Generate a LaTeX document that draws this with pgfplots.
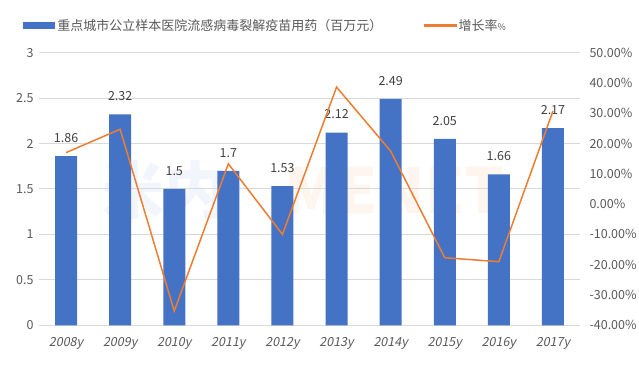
\documentclass[border=0pt]{standalone}
\usepackage{pgfplots}
\pgfplotsset{compat=1.18}
\usepackage{fontspec}
\setmainfont{Noto Sans CJK SC}
\newfontfamily\xfont[FakeSlant=0.2]{Noto Sans CJK SC}
\definecolor{barblue}{RGB}{68,114,196}
\definecolor{lineor}{RGB}{237,125,49}
\definecolor{tickgray}{RGB}{89,89,89}
\definecolor{gridgray}{RGB}{217,217,217}
\definecolor{lblgray}{RGB}{64,64,64}
\begin{document}
\begin{tikzpicture}[x=1pt,y=1pt]
\useasboundingbox (-39,-39) rectangle (600,325.3);
% faint watermark
\node[font=\fontsize{62}{62}\selectfont\bfseries, text=barblue!7, anchor=center] at (125,135) {米内};
\node[font=\fontsize{62}{62}\selectfont\bfseries, text=lineor!8, anchor=center] at (355,135) {MENET};
\begin{axis}[
  at={(0,0)}, anchor=south west,
  scale only axis, width=541pt, height=272.7pt,
  xmin=-0.5, xmax=9.5, ymin=0, ymax=3,
  xtick={0,...,9},
  xticklabels={2008y,2009y,2010y,2011y,2012y,2013y,2014y,2015y,2016y,2017y},
  xticklabel style={font=\xfont\fontsize{12.5}{13}\selectfont, text=tickgray, yshift=-9pt},
  ytick={0,0.5,1,1.5,2,2.5,3},
  yticklabels={0,0.5,1,1.5,2,2.5,3},
  yticklabel style={font=\fontsize{12.5}{13}\selectfont, text=tickgray, xshift=-2pt},
  major tick length=0pt,
  axis line style={draw=none},
  ymajorgrids, grid style={gridgray, line width=1pt},
  ybar, bar width=22pt,
  nodes near coords,
  nodes near coords style={font=\fontsize{12.5}{13}\selectfont, text=lblgray, yshift=10pt},
  point meta=explicit symbolic,
  legend style={at={(axis description cs:-0.035,1.1)}, anchor=west, draw=none, fill=none,
    legend columns=2, font=\fontsize{13}{14}\selectfont, text=tickgray,
    /tikz/every even column/.append style={column sep=40pt}},
  legend cell align=left,
]
\addplot[fill=barblue, draw=none,
  legend image code/.code={\fill[barblue] (0pt,-3.5pt) rectangle (32pt,3.5pt);}]
  coordinates {(0,1.86) [1.86] (1,2.32) [2.32] (2,1.5) [1.5] (3,1.7) [1.7] (4,1.53) [1.53]
               (5,2.12) [2.12] (6,2.49) [2.49] (7,2.05) [2.05] (8,1.66) [1.66] (9,2.17) [2.17]};
\addlegendentry{重点城市公立样本医院流感病毒裂解疫苗用药（百万元）}
\addlegendimage{legend image code/.code={\fill[lineor] (0pt,-1pt) rectangle (32pt,1pt);}}
\addlegendentry{增长率{\fontsize{9}{10}\selectfont\%}}
\end{axis}
\begin{axis}[
  at={(0,0)}, anchor=south west,
  scale only axis, width=541pt, height=272.7pt,
  xmin=-0.5, xmax=9.5, ymin=-40, ymax=50,
  axis y line*=right, axis x line=none,
  axis line style={draw=none},
  ytick={-40,-30,...,50},
  /pgf/number format/assume math mode=true,
  yticklabel={\pgfmathprintnumber[fixed,fixed zerofill,precision=2,assume math mode=true]{\tick}\%},
  yticklabel style={font=\fontsize{12.5}{13}\selectfont, text=tickgray, anchor=west, xshift=6pt},
  major tick length=0pt,
]
\addplot[lineor, line width=1.5pt, mark=none]
  coordinates {(0,17.0) (1,24.7) (2,-35.3) (3,13.3) (4,-10.0) (5,38.6) (6,17.5) (7,-17.7) (8,-19.0) (9,30.7)};
\end{axis}
\end{tikzpicture}
\end{document}
